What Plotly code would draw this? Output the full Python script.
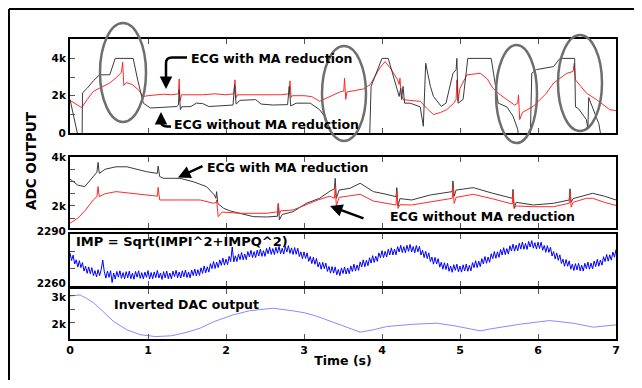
import plotly.graph_objects as go
import numpy as np

# ---------------- data ----------------
# Panel 1: ECG with / without motion-artefact reduction (ADC counts)
p1_red_t = [0.00, 0.08, 0.15, 0.22, 0.30, 0.40, 0.51, 0.60, 0.66, 0.675, 0.69, 0.72, 0.80, 0.88, 0.94,
            1.00, 1.10, 1.20, 1.30, 1.39, 1.40, 1.41, 1.43, 1.55, 1.70, 1.85, 2.00, 2.10, 2.115, 2.13,
            2.15, 2.30, 2.50, 2.70, 2.81, 2.82, 2.835, 2.85, 3.00, 3.10, 3.20, 3.30, 3.46, 3.51, 3.52,
            3.535, 3.55, 3.76, 3.85, 3.97, 4.04, 4.12, 4.20, 4.22, 4.23, 4.245, 4.27, 4.35, 4.49, 4.58,
            4.66, 4.75, 4.83, 4.92, 4.95, 4.96, 4.975, 5.00, 5.09, 5.26, 5.35, 5.42, 5.50, 5.60, 5.70,
            5.74, 5.75, 5.765, 5.80, 5.94, 6.03, 6.10, 6.20, 6.30, 6.37, 6.45, 6.465, 6.48, 6.55, 6.62,
            6.75, 6.85, 6.92, 7.00]
p1_red_v = [1750, 1550, 1360, 1800, 2230, 2450, 2680, 3000, 3250, 3800, 2550, 2700, 2600, 2300, 1960,
            2000, 2050, 2080, 2050, 2100, 2900, 1700, 2050, 2050, 2050, 2100, 2050, 2100, 2850, 1900,
            2050, 2050, 2050, 2050, 2100, 2800, 1900, 2000, 2000, 1950, 1700, 1900, 2200, 2250, 2940,
            1800, 2200, 2360, 2600, 3480, 3830, 3400, 2850, 2600, 2940, 2100, 1790, 1750, 1700, 1300,
            990, 1100, 1250, 1600, 1800, 2850, 1700, 2400, 3120, 3200, 2900, 2410, 2100, 1790, 1500,
            1600, 2050, 720, 1100, 1430, 1800, 2100, 2680, 3000, 3200, 3300, 3740, 2850, 2500, 2140,
            1790, 1500, 1250, 1200]

p1_blk_t = [0.00, 0.05, 0.10, 0.12, 0.155, 0.16, 0.22, 0.30, 0.38, 0.51, 0.58, 0.81, 0.87, 0.94, 1.03,
            1.20, 1.37, 1.39, 1.40, 1.415, 1.43, 1.55, 1.62, 1.70, 1.78, 1.90, 2.09, 2.11, 2.13, 2.18,
            2.30, 2.38, 2.45, 2.60, 2.79, 2.81, 2.83, 2.90, 3.08, 3.14, 3.20, 3.28, 3.35, 3.38, 3.84,
            3.86, 4.00, 4.08, 4.15, 4.22, 4.24, 4.25, 4.27, 4.29, 4.36, 4.49, 4.53, 4.56, 4.62, 4.66,
            4.76, 4.82, 4.91, 4.95, 4.96, 4.975, 5.04, 5.10, 5.40, 5.49, 5.60, 5.68, 5.74, 5.76, 5.90,
            5.92, 5.98, 6.20, 6.28, 6.47, 6.48, 6.52, 6.62, 6.64, 6.65, 6.70, 6.78, 6.82, 7.00]
p1_blk_v = [1800, 900, 0, -500, -500, 2150, 2400, 2800, 3120, 3120, 4000, 4000, 2800, 1600, 1340,
            1380, 1420, 1500, 2320, 1250, 1400, 1420, 1600, 1580, 1420, 1450, 1500, 2590, 1550, 1750,
            1790, 1790, 1550, 1500, 1520, 2500, 1450, 1600, 1600, 1400, 1250, 800, 0, -500, -500,
            2500, 4000, 4000, 3000, 1960, 2400, 1800, 2500, 1600, 1600, 1400, 360, 3740, 2500, 1960,
            1430, 1600, 3200, 3400, 4000, 1600, 1800, 4000, 4000, 1600, 1400, 900, 200, -500, -500,
            3200, 3400, 3560, 4000, 4000, 1400, 1300, 720, 250, 1900, 1400, 500, -500, -500]

# Panel 2: ECG after filtering
p2_blk_t = [0.00, 0.10, 0.19, 0.28, 0.345, 0.36, 0.375, 0.45, 0.59, 0.73, 0.85, 0.98, 1.12, 1.13, 1.15,
            1.20, 1.41, 1.58, 1.75, 1.85, 1.87, 1.88, 1.895, 1.97, 2.05, 2.18, 2.35, 2.52, 2.66, 2.67,
            2.685, 2.72, 2.86, 3.03, 3.20, 3.33, 3.39, 3.40, 3.415, 3.45, 3.59, 3.72, 3.89, 4.05, 4.18,
            4.19, 4.205, 4.23, 4.38, 4.62, 4.90, 4.91, 4.925, 4.95, 5.17, 5.42, 5.67, 5.68, 5.695, 5.72,
            5.94, 6.20, 6.40, 6.41, 6.425, 6.45, 6.62, 6.70, 6.85, 7.00]
p2_blk_v = [3100, 2850, 2790, 3130, 3380, 3780, 3330, 3500, 3600, 3600, 3500, 3400, 3330, 3630, 3200,
            3130, 3130, 2990, 2790, 2450, 2313, 2585, 2100, 1905, 1800, 1700, 1564, 1550, 1580, 2068,
            1430, 1650, 1767, 2110, 2313, 2600, 2700, 3130, 2313, 2650, 2722, 2926, 2585, 2480, 2380,
            2748, 2000, 2300, 2245, 2450, 2585, 3020, 2400, 2650, 2748, 2518, 2313, 2680, 1905, 2150,
            2040, 2110, 2245, 2700, 2150, 2300, 2450, 2518, 2400, 2245]

p2_red_t = [0.00, 0.10, 0.20, 0.30, 0.345, 0.36, 0.375, 0.45, 0.59, 0.75, 0.98, 1.12, 1.13, 1.15, 1.40,
            1.67, 1.84, 1.875, 1.88, 1.90, 1.95, 2.18, 2.52, 2.66, 2.67, 2.685, 2.70, 2.86, 3.18, 3.33,
            3.39, 3.40, 3.415, 3.45, 3.72, 3.89, 4.18, 4.19, 4.205, 4.23, 4.38, 4.62, 4.90, 4.91, 4.925,
            4.95, 5.17, 5.42, 5.67, 5.68, 5.695, 5.72, 5.94, 6.20, 6.40, 6.41, 6.425, 6.45, 6.62, 6.70,
            6.85, 7.00]
p2_red_v = [1294, 1500, 1836, 2250, 2380, 2790, 2380, 2500, 2585, 2520, 2450, 2400, 2760, 2245, 2245,
            2245, 2110, 2150, 2245, 1564, 1750, 1700, 1700, 1760, 2110, 1650, 1800, 1836, 2245, 2400,
            2313, 2788, 2000, 2350, 2477, 2200, 2040, 2600, 1900, 2050, 2040, 2176, 2313, 2788, 2100,
            2350, 2477, 2290, 2080, 2560, 1900, 2000, 1970, 1970, 2110, 2560, 1950, 2150, 2313, 2313,
            2150, 2020]

# Panel 3: impedance magnitude, one sample every 0.02 s from 0 to 7 s
imp_v = [2279.0, 2274.7, 2277.8, 2272.7, 2275.1, 2270.9, 2274.6, 2270.6, 2273.5, 2268.6, 2271.4, 2267.3,
         2271.0, 2267.1, 2270.6, 2266.0, 2268.9, 2265.2, 2269.4, 2266.0, 2269.5, 2275.0, 2268.2, 2264.5,
         2268.6, 2265.0, 2268.8, 2262.0, 2267.5, 2264.0, 2268.4, 2265.1, 2268.8, 2264.4, 2267.7, 2264.1,
         2268.3, 2264.7, 2268.6, 2264.2, 2267.4, 2263.9, 2268.4, 2265.1, 2268.8, 2264.4, 2267.7, 2264.1,
         2268.0, 2265.0, 2268.9, 2264.0, 2267.8, 2264.2, 2268.1, 2264.8, 2269.0, 2264.6, 2267.5, 2263.8,
         2268.3, 2264.7, 2268.6, 2264.2, 2267.5, 2264.1, 2268.6, 2265.4, 2269.1, 2264.8, 2268.1, 2264.6,
         2268.8, 2265.3, 2269.2, 2264.9, 2268.1, 2264.7, 2269.2, 2266.0, 2269.8, 2265.8, 2269.4, 2266.1,
         2270.5, 2267.3, 2271.6, 2267.6, 2271.1, 2268.0, 2272.9, 2270.0, 2274.1, 2270.1, 2273.8, 2270.6,
         2275.1, 2271.9, 2276.1, 2272.0, 2275.5, 2272.3, 2277.1, 2274.1, 2282.5, 2273.9, 2277.4, 2274.1,
         2278.5, 2275.2, 2279.3, 2275.1, 2278.5, 2275.2, 2279.9, 2276.8, 2280.6, 2276.4, 2279.8, 2276.4,
         2280.7, 2277.3, 2281.3, 2277.1, 2280.4, 2277.1, 2281.7, 2278.6, 2282.4, 2278.2, 2281.6, 2278.1,
         2282.4, 2278.9, 2282.9, 2278.6, 2281.8, 2278.4, 2282.9, 2279.6, 2283.3, 2278.8, 2282.0, 2278.2,
         2282.2, 2278.3, 2281.8, 2277.0, 2279.7, 2275.7, 2279.7, 2275.9, 2279.1, 2274.2, 2277.0, 2272.9,
         2276.6, 2272.5, 2275.9, 2271.0, 2273.7, 2269.7, 2273.7, 2270.0, 2273.2, 2268.4, 2271.3, 2267.4,
         2271.2, 2267.4, 2271.0, 2266.5, 2269.5, 2266.0, 2270.4, 2267.2, 2271.0, 2266.9, 2270.4, 2267.1,
         2271.6, 2268.4, 2272.6, 2268.6, 2272.1, 2269.0, 2273.9, 2271.0, 2275.1, 2271.1, 2274.8, 2271.7,
         2276.3, 2273.2, 2277.5, 2273.6, 2277.2, 2274.2, 2279.1, 2276.3, 2280.4, 2276.4, 2280.0, 2276.7,
         2281.2, 2277.9, 2282.0, 2277.9, 2281.3, 2278.0, 2282.7, 2279.6, 2283.5, 2279.3, 2282.7, 2279.2,
         2283.5, 2280.0, 2284.0, 2279.6, 2282.8, 2279.1, 2283.4, 2279.7, 2282.9, 2277.9, 2280.6, 2276.4,
         2280.0, 2275.8, 2279.1, 2274.1, 2276.7, 2272.6, 2276.5, 2272.7, 2275.8, 2270.9, 2273.7, 2269.7,
         2273.4, 2269.5, 2273.1, 2268.5, 2271.5, 2267.9, 2272.3, 2269.0, 2272.6, 2268.2, 2271.5, 2268.0,
         2272.2, 2268.7, 2272.7, 2268.5, 2271.9, 2268.7, 2273.5, 2270.6, 2274.6, 2270.6, 2274.3, 2271.2,
         2275.8, 2272.7, 2277.0, 2273.1, 2276.7, 2273.7, 2278.6, 2275.8, 2279.9, 2276.0, 2279.7, 2276.5,
         2281.1, 2277.9, 2282.1, 2278.1, 2281.6, 2278.4, 2283.2, 2280.2, 2284.2, 2280.1, 2283.6, 2280.3,
         2284.7, 2281.3, 2285.4, 2281.2, 2284.5, 2281.1, 2285.7, 2282.5, 2286.2, 2281.8, 2285.0, 2281.3,
         2285.3, 2281.6, 2285.3, 2280.6, 2283.4, 2279.4, 2283.3, 2279.4, 2282.4, 2277.3, 2279.9, 2275.6,
         2279.1, 2274.8, 2278.0, 2273.0, 2275.5, 2271.4, 2275.3, 2271.4, 2274.5, 2269.7, 2272.6, 2268.9,
         2272.9, 2269.3, 2273.1, 2268.8, 2272.0, 2268.6, 2273.1, 2270.0, 2273.8, 2269.7, 2273.2, 2269.9,
         2274.4, 2271.2, 2275.4, 2271.4, 2275.0, 2272.0, 2276.9, 2274.1, 2278.2, 2274.3, 2278.0, 2274.9,
         2279.6, 2276.6, 2281.1]
imp_t = np.linspace(0, 7, len(imp_v))

# Panel 4: inverted DAC output
dac_t = [0.00, 0.13, 0.21, 0.30, 0.38, 0.47, 0.56, 0.73, 0.90, 1.10, 1.30, 1.50, 1.67, 1.85, 2.09,
         2.30, 2.60, 2.85, 3.00, 3.16, 3.46, 3.72, 3.90, 4.06, 4.40, 4.70, 4.91, 5.10, 5.26, 5.40,
         5.56, 5.77, 6.15, 6.30, 6.45, 6.71, 7.00]
dac_v = [3000, 3037, 2915, 2750, 2544, 2300, 2048, 1740, 1560, 1490, 1520, 1650, 1804, 2050, 2296,
         2450, 2544, 2450, 2380, 2250, 1926, 1655, 1750, 1863, 1950, 1988, 1900, 1780, 1704, 1780,
         1863, 1950, 2086, 2050, 1988, 1840, 1926]

x_ticks = [0, 1, 2, 3, 4, 5, 6, 7]
y1_ticks = [0, 1000, 2000, 3000, 4000]
y1_text = ["0", "", "2k", "", "4k"]
y2_ticks = [1500, 2000, 2500, 3000, 3500, 4000]
y2_text = ["", "2k", "", "", "", "4k"]
y3_ticks = [2260, 2270, 2280, 2290]
y3_text = ["2260", "", "", "2290"]
y4_ticks = [2000, 2500, 3000]
y4_text = ["2k", "", "3k"]

# ---------------- figure ----------------
# The page body adds an 8 px margin on every side; the figure is sized to fit
# inside the window so that the plot area lands on window pixels x 70..616, y 39..339.
OFF = 8
W, H = 642 - 2 * OFF, 388 - 2 * OFF
ML, MT = 70 - OFF, 39 - OFF
MR = W - (616 - OFF)
MB = H - (339 - OFF)
PW, PH = 546, 300


def px(x):  # window pixel -> paper
    return (x - 70) / PW


def py(y):
    return (339 - y) / PH


RED = "#ff2a2a"
BLK = "#3a3a3a"
FONT = "DejaVu Sans"

fig = go.Figure()
fig.add_trace(go.Scatter(x=p1_red_t, y=p1_red_v, mode="lines", line=dict(color=RED, width=1), xaxis="x", yaxis="y"))
fig.add_trace(go.Scatter(x=p1_blk_t, y=p1_blk_v, mode="lines", line=dict(color=BLK, width=1), xaxis="x", yaxis="y"))
fig.add_trace(go.Scatter(x=p2_blk_t, y=p2_blk_v, mode="lines", line=dict(color=BLK, width=1), xaxis="x2", yaxis="y2"))
fig.add_trace(go.Scatter(x=p2_red_t, y=p2_red_v, mode="lines", line=dict(color=RED, width=1), xaxis="x2", yaxis="y2"))
fig.add_trace(go.Scatter(x=imp_t, y=imp_v, mode="lines", line=dict(color="#0000ff", width=1), xaxis="x3", yaxis="y3"))
fig.add_trace(go.Scatter(x=dac_t, y=dac_v, mode="lines", line=dict(color="#8a8aff", width=1), xaxis="x4", yaxis="y4"))

tickfont = dict(family=FONT, size=11, color="black", weight="bold")
ytickfont = dict(family=FONT, size=10.5, color="black", weight="bold")
xcommon = dict(range=[0, 7], tickvals=x_ticks, ticks="inside", ticklen=5, tickcolor="#555",
               showline=True, linewidth=2, linecolor="black", mirror="ticks", showgrid=False,
               zeroline=False, tickfont=tickfont, automargin=False)
ycommon = dict(ticks="inside", ticklen=5, tickcolor="#555", showline=True, linewidth=2,
               linecolor="black", mirror=True, showgrid=False, zeroline=False, tickfont=ytickfont,
               automargin=False)

doms = [[py(133), 1.0], [py(228), py(157)], [py(286), py(234)], [0.0, py(289)]]

fig.update_layout(
    width=W, height=H, margin=dict(l=ML, r=MR, t=MT, b=MB, pad=0),
    paper_bgcolor="white", plot_bgcolor="white", showlegend=False,
    xaxis=dict(xcommon, anchor="y", showticklabels=False, matches="x4"),
    xaxis2=dict(xcommon, anchor="y2", showticklabels=False, matches="x4"),
    xaxis3=dict(xcommon, anchor="y3", showticklabels=False, matches="x4"),
    xaxis4=dict(xcommon, anchor="y4", showticklabels=True,
                title=dict(text="Time (s)", font=dict(family=FONT, size=12.5, color="black", weight="bold"), standoff=0)),
    yaxis=dict(ycommon, anchor="x", domain=doms[0], range=[0, 5040], tickvals=y1_ticks, ticktext=y1_text),
    yaxis2=dict(ycommon, anchor="x2", domain=doms[1], range=[1100, 4000], tickvals=y2_ticks, ticktext=y2_text),
    yaxis3=dict(ycommon, anchor="x3", domain=doms[2], range=[2260, 2290], tickvals=y3_ticks, ticktext=y3_text,
                ticklabelshift=-3),
    yaxis4=dict(ycommon, anchor="x4", domain=doms[3], range=[1400, 3260], tickvals=y4_ticks, ticktext=y4_text,
                ticklabelshift=1),
)


def path(points_px):
    s = ""
    for i, p in enumerate(points_px):
        if p[0] == "Q":
            s += " Q %.5f,%.5f %.5f,%.5f" % (px(p[1]), py(p[2]), px(p[3]), py(p[4]))
        else:
            s += (" M" if i == 0 else " L") + " %.5f,%.5f" % (px(p[0]), py(p[1]))
    return s.strip()


shapes = []
# outer frame: only its left and top edges fall inside the picture
shapes.append(dict(type="line", xref="paper", yref="paper", x0=px(9), x1=px(9), y0=py(9), y1=py(380),
                   line=dict(color="black", width=2)))
shapes.append(dict(type="line", xref="paper", yref="paper", x0=px(9), x1=px(634), y0=py(9), y1=py(9),
                   line=dict(color="black", width=2)))
# ellipses marking motion artefacts
for (x0, x1, y0, y1) in [(100, 146, 23, 122), (322, 366, 46, 141), (496, 537, 45, 143), (558, 602, 35, 131)]:
    shapes.append(dict(type="circle", xref="paper", yref="paper", x0=px(x0), x1=px(x1), y0=py(y1), y1=py(y0),
                       line=dict(color="#6e6e6e", width=2.5)))

shapes.append(dict(type="path", xref="paper", yref="paper",
                   path=path([(187, 57.5), (172, 57.5), ("Q", 166, 57.5, 166, 63), (166, 82)]),
                   line=dict(color="black", width=2.5)))
shapes.append(dict(type="path", xref="paper", yref="paper",
                   path=path([(171, 126.5), (167, 126.5), ("Q", 161, 126.5, 161, 121), (161, 118)]),
                   line=dict(color="black", width=2.5)))
fig.update_layout(shapes=shapes)

afont = dict(family=FONT, size=12.5, color="black", weight="bold")
ann = []


def label(text, xl, yc, size=12.5):
    ann.append(dict(text=text, xref="paper", yref="paper", x=px(xl), y=py(yc), xanchor="left",
                    yanchor="middle", showarrow=False, font=dict(afont, size=size)))


label("ECG with MA reduction", 189, 58.5)
label("ECG without MA reduction", 172, 124)
label("ECG with MA reduction", 205, 167.5)
label("ECG without MA reduction", 388, 217)
label("IMP = Sqrt(IMPI^2+IMPQ^2)", 74, 241.5, 13)
label("Inverted DAC output", 112, 304, 12.5)


def arrow(hx, hy, tx, ty):
    ann.append(dict(text="", xref="paper", yref="paper", x=px(hx), y=py(hy), ax=tx - hx, ay=ty - hy,
                    axref="pixel", ayref="pixel", showarrow=True, arrowhead=2, arrowsize=1,
                    arrowwidth=2.5, arrowcolor="black"))


arrow(166, 89, 166, 78)
arrow(161, 112, 161, 121)
arrow(178, 177.5, 204, 165.5)
arrow(330, 206, 365, 219)

ann.append(dict(text="ADC OUTPUT", xref="paper", yref="paper", x=px(31), y=py(161), textangle=-90,
                showarrow=False, xanchor="center", yanchor="middle",
                font=dict(family=FONT, size=13.5, color="black", weight="bold")))
fig.update_layout(annotations=ann)

fig.write_html("out.html")
